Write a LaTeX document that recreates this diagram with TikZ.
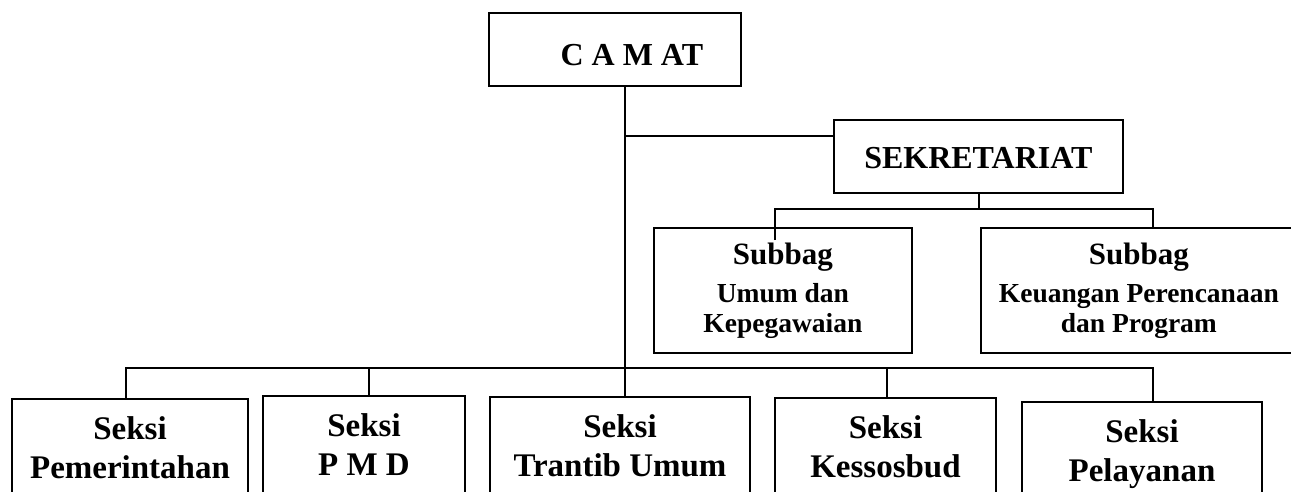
\documentclass[tikz,border=0pt]{standalone}
\usepackage{fontspec}
\setmainfont{Liberation Serif}

\begin{document}
\begin{tikzpicture}[x=1pt,y=-1pt,line width=1.7pt,
	kotak/.style={draw,align=center,inner sep=0pt},
	pimpinan/.style={kotak,anchor=north west,minimum height=73pt,text depth=0pt,font=\fontsize{32}{36}\selectfont\bfseries},
	subbag/.style={kotak,anchor=north west,minimum height=125pt,font=\fontsize{27.5}{30}\selectfont\bfseries},
	seksi/.style={kotak,anchor=north,inner ysep=18pt,text depth=100pt,font=\fontsize{33}{39}\selectfont\bfseries}]
	\useasboundingbox (0,0) rectangle (1291,492);
	\clip (0,0) rectangle (1291,492);
	% pimpinan
	\node[pimpinan,minimum width=252pt,text height=33pt] (camat) at (488,12) {\hspace*{34pt}C A M AT};
	\node[pimpinan,minimum width=289pt,text height=25pt] (sekre) at (833,119) {SEKRETARIAT};
	% subbag
	\node[subbag,minimum width=258pt] (umum) at (653,227) {{\fontsize{31}{31}\selectfont Subbag}\\[8pt]Umum dan\\Kepegawaian};
	\node[subbag,minimum width=316pt] (keu) at (980,227) {{\fontsize{31}{31}\selectfont Subbag}\\[8pt]Keuangan Perencanaan\\dan Program};
	% seksi
	\node[seksi,minimum width=236pt] (pem) at (130,398) {Seksi\\Pemerintahan};
	\node[seksi,minimum width=202pt] (pmd) at (364,395) {Seksi\\P M D};
	\node[seksi,minimum width=260pt] (trantib) at (620,396) {Seksi\\Trantib Umum};
	\node[seksi,minimum width=221pt] (kesos) at (885.5,397) {Seksi\\Kessosbud};
	\node[seksi,minimum width=240pt] (pelayanan) at (1142,401) {Seksi\\Pelayanan};
	% garis
	\coordinate (jsek) at (625,136);
	\coordinate (jsub) at (979,209);
	\coordinate (subkiri) at (775,240);
	\coordinate (subkanan) at (1153,209);
	\coordinate (buskiri) at (126,368);
	\coordinate (buskanan) at (1153,368);
	\draw (camat.south -| jsek) -- (trantib.north -| jsek);
	\draw (jsek) -- (jsek -| sekre.west);
	\draw (sekre.south -| jsub) -- (jsub);
	\draw (subkiri) |- (subkanan) -- (subkanan |- keu.north);
	\draw (buskiri |- pem.north) |- (buskanan) -- (buskanan |- pelayanan.north);
	\foreach \x/\n in {369/pmd,887/kesos}
		\draw (\x,368) -- (\x,0 |- \n.north);
\end{tikzpicture}
\end{document}
